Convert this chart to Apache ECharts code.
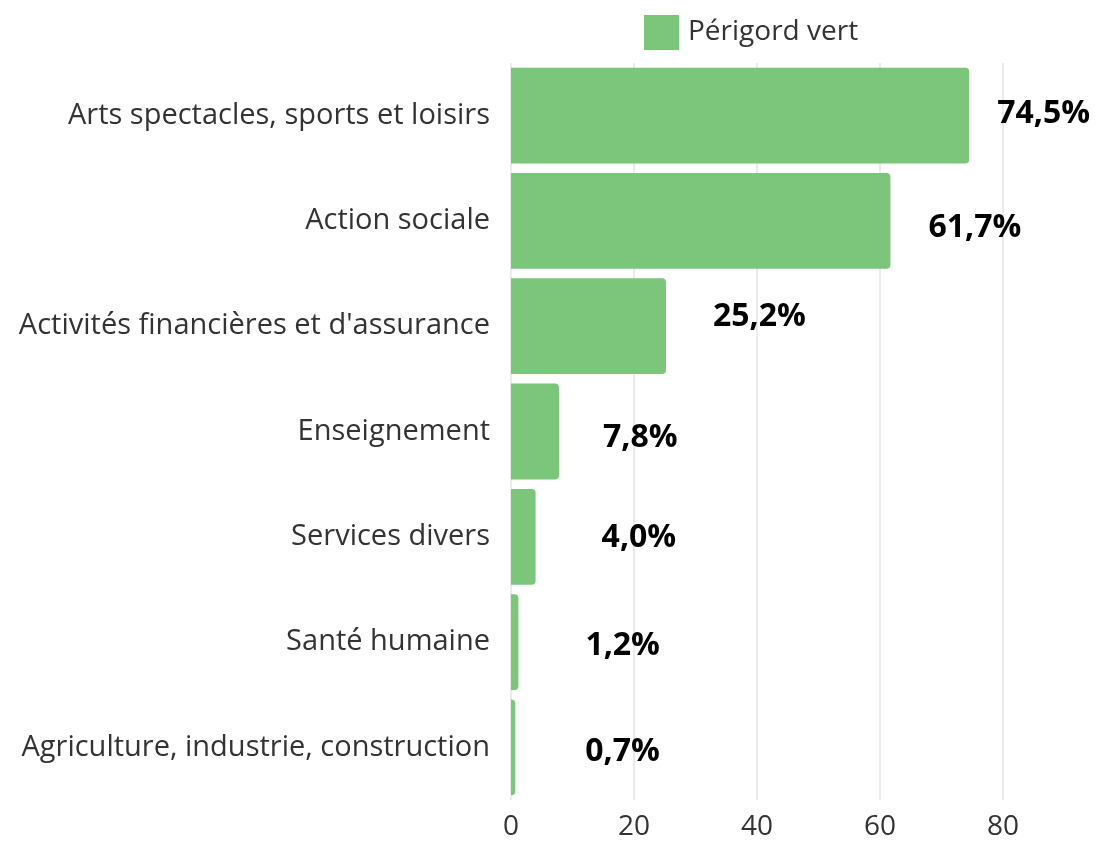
<!DOCTYPE html>
<html>
<head>
<meta charset="utf-8">
<script src="https://cdn.jsdelivr.net/npm/echarts@6/dist/echarts.min.js"></script>
<style>
  html, body { margin: 0; padding: 0; background: #fff; }
  #chart { width: 1096px; height: 841px; }
</style>
</head>
<body>
<div id="chart"></div>
<script>
// data, top to bottom as in the picture
var categories = [
  'Arts spectacles, sports et loisirs',
  'Action sociale',
  "Activités financières et d'assurance",
  'Enseignement',
  'Services divers',
  'Santé humaine',
  'Agriculture, industrie, construction'
];
var values = [74.5, 61.7, 25.2, 7.8, 4.0, 1.2, 0.7];
var seriesName = 'Périgord vert';
var xTicks = [0, 20, 40, 60, 80];

// label nudges [dx, dy] so the % labels sit where the original put them
var labelShift = [[28, -2], [38, 7], [47, -9], [44, 6], [66, 1], [67, 4], [70, 5]];

var barColor = '#7BC67B';
var textColor = '#333333';
var font = '"Open Sans", "Noto Sans", sans-serif';

var seriesData = values.map(function (v, i) {
  return {
    value: v,
    label: { offset: labelShift[i] }
  };
});

var option = {
  animation: false,
  textStyle: { fontFamily: font },
  legend: {
    left: 644,
    top: 15,
    padding: 0,
    itemWidth: 35,
    itemHeight: 35,
    itemGap: 9,
    icon: 'rect',
    itemStyle: { borderRadius: 2 },
    textStyle: { fontSize: 28, color: textColor, fontFamily: font, padding: [0, 0, 0, 4] },
    data: [seriesName]
  },
  grid: {
    left: 511,
    right: 93,
    top: 63,
    bottom: 37
  },
  xAxis: {
    type: 'value',
    min: xTicks[0],
    max: xTicks[xTicks.length - 1],
    interval: 20,
    axisLine: { show: false },
    axisTick: { show: false },
    splitLine: { lineStyle: { color: '#e4e4e4', width: 1.5 } },
    axisLabel: { fontSize: 28, color: textColor, margin: 13, fontFamily: font }
  },
  yAxis: {
    type: 'category',
    inverse: true,
    data: categories,
    axisLine: { show: false },
    axisTick: { show: false },
    axisLabel: { fontSize: 29, color: textColor, margin: 21, fontFamily: font }
  },
  series: [{
    name: seriesName,
    type: 'bar',
    data: seriesData,
    barCategoryGap: '9%',
    itemStyle: {
      color: barColor,
      borderRadius: [0, 4, 4, 0]
    },
    label: {
      show: true,
      position: 'right',
      distance: 0,
      fontSize: 32,
      fontWeight: 'bold',
      color: '#000',
      fontFamily: font,
      formatter: function (p) {
        return p.value.toFixed(1).replace('.', ',') + '%';
      }
    }
  }]
};

var myChart = echarts.init(document.getElementById('chart'));
myChart.setOption(option);
</script>
</body>
</html>
